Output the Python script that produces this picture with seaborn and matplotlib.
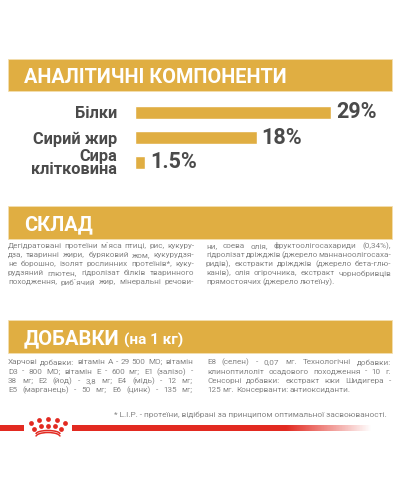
import numpy as np
import pandas as pd
import matplotlib
matplotlib.use("Agg")
import matplotlib.pyplot as plt
from matplotlib.patches import Rectangle, Arc
import seaborn as sns

categories = ["Білки", "Сирий жир", "Сира\nклітковина"]
values = [29, 18, 1.5]
value_labels = ["29%", "18%", "1.5%"]

title_1 = "АНАЛІТИЧНІ КОМПОНЕНТИ"
title_2 = "СКЛАД"
title_3 = "ДОБАВКИ"
title_3b = "(на 1 кг)"

sklad_left = [
    "Дегідратовані протеїни м`яса птиці, рис, кукуру-",
    "дза, тваринні жири, буряковий жом, кукурудзя-",
    "не борошно, ізолят рослинних протеїнів*, куку-",
    "рудзяний глютен, гідролізат білків тваринного",
    "походження, риб`ячий жир, мінеральні речови-",
]
sklad_right = [
    "ни, соева олія, фруктоолігосахариди (0,34%),",
    "гідролізат дріжджів (джерело маннаноолігосаха-",
    "ридів), екстракти дріжджів (джерело бета-глю-",
    "канів), олія огірочника, екстракт чорнобривців",
    "прямостоячих (джерело лютеїну).",
]
dod_left = [
    "Харчові добавки: вітамін А - 29 500 МО; вітамін",
    "D3 - 800 МО; вітамін Е - 600 мг; Е1 (залізо) -",
    "38 мг; Е2 (йод) - 3,8 мг; Е4 (мідь) - 12 мг;",
    "Е5 (марганець) - 50 мг; Е6 (цинк) - 135 мг;",
]
dod_right = [
    "Е8 (селен) - 0,07 мг. Технологічні добавки:",
    "клиноптилоліт осадового походження - 10 г.",
    "Сенсорні добавки: екстракт юки Шидигера -",
    "125 мг. Консерванти: антиоксиданти.",
]
footnote = "* L.I.P. - протеїни, відібрані за принципом оптимальної засвоюваності."

GOLD = "#E0AE42"
DARK = "#4A4A4A"
BODY = "#858585"
RED = "#E22A21"

sns.set_theme(style="white")
plt.rcParams["font.family"] = ["Roboto", "DejaVu Sans"]

fig = plt.figure(figsize=(4, 5), dpi=100, facecolor="white")
page = fig.add_axes([0, 0, 1, 1])
page.set_xlim(0, 400)
page.set_ylim(500, 0)
page.axis("off")

# header bands
for top, h in [(59, 32), (206, 33), (320, 33)]:
    page.add_patch(Rectangle((8, top), 384, h, fc=GOLD, ec="#F3DFB0", lw=0.6))
page.text(24, 75.5, title_1, color="white", fontsize=14.3, fontweight="bold", va="center_baseline")
page.text(24, 223, title_2, color="white", fontsize=14.4, fontweight="bold", va="center_baseline")
page.text(24, 337, title_3, color="white", fontsize=14.6, fontweight="bold", va="center_baseline")
page.text(124, 339, title_3b, color="white", fontsize=11, fontweight="bold", va="center_baseline")

# bar chart
ax = fig.add_axes([135 / 400, 1 - 175 / 500, 265 / 400, 75 / 500])
ax.patch.set_alpha(0)
df = pd.DataFrame({"cat": categories, "val": values})
sns.barplot(data=df, y="cat", x="val", color=GOLD, saturation=1, width=0.52, ax=ax)
ax.set_xlim(0, 265 / 6.76)
ax.set_xlabel("")
ax.set_ylabel("")
ax.set_xticks([])
sns.despine(ax=ax, left=True, bottom=True)
ax.tick_params(axis="y", length=0, pad=13)
for t in ax.get_yticklabels():
    t.set_fontsize(11.8)
    t.set_fontweight("bold")
    t.set_color(DARK)
    t.set_linespacing(0.8)
ax.bar_label(ax.containers[0], labels=value_labels, padding=3.6, fontsize=15.5, fontweight="bold", color=DARK)

# body text, justified
renderer = fig.canvas.get_renderer()
def draw_lines(lines, x0, x1, ys, last_end=None, size=5.9):
    for i, (line, y) in enumerate(zip(lines, ys)):
        words = line.split(" ")
        tt = [page.text(0, y, w, fontsize=size, color=BODY, va="center_baseline") for w in words]
        ws = [t.get_window_extent(renderer).width for t in tt]
        end = last_end if (last_end and i == len(lines) - 1) else x1
        gap = (end - x0 - sum(ws)) / max(len(words) - 1, 1)
        x = x0
        for t, w in zip(tt, ws):
            t.set_x(x)
            x += w + gap

ys1 = [245.3, 254.3, 263.5, 272.7, 281.7]
ys2 = [361.7, 371, 380.3, 389.7]
draw_lines(sklad_left, 8, 194, ys1)
draw_lines(sklad_right, 206, 391, ys1, last_end=335)
draw_lines(dod_left, 8, 193, ys2)
draw_lines(dod_right, 207, 391, ys2, last_end=351)
page.text(387, 414, footnote, fontsize=5.92, color=BODY, ha="right", va="center_baseline")

# red line with crown
page.add_patch(Rectangle((0, 425), 24, 6, fc=RED, ec="none"))
fade = np.ones((1, 200, 4))
fade[0, :, :3] = matplotlib.colors.to_rgb(RED)
fade[0, :, 3] = np.clip((372 - np.linspace(72, 372, 200)) / 85, 0, 1)
page.imshow(fade, extent=(72, 372, 431, 425), aspect="auto", zorder=2)
page.set_xlim(0, 400)
page.set_ylim(500, 0)
crown_x = [31.3, 39.3, 48, 56.7, 64.7, 34.3, 41.3, 48, 54.7, 61.3]
crown_y = [423.3, 420, 419, 420, 423.3, 429, 426.3, 425.7, 426.3, 429]
page.scatter(crown_x, crown_y, s=12, color=RED, lw=0, zorder=3)
for cy, hh in ((434, 7), (436.5, 8)):
    page.add_patch(Arc((48, cy), 24, hh, theta1=180, theta2=360, ec=RED, lw=1.1, zorder=3))

fig.savefig("out.png", dpi=100, facecolor="white")
